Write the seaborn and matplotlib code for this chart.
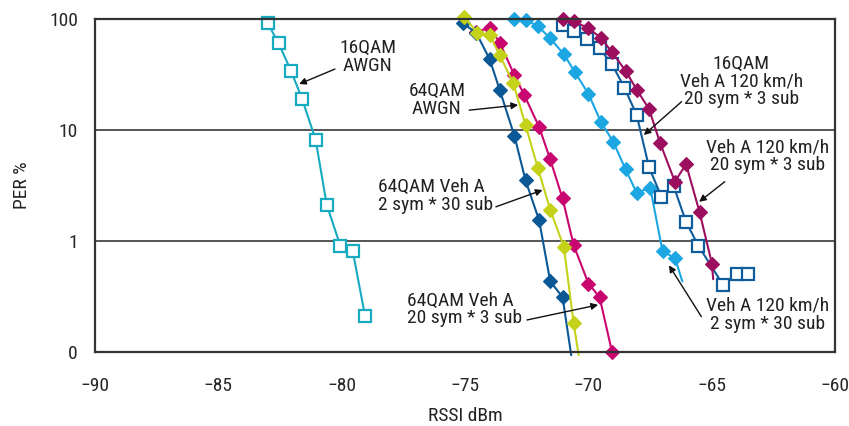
import numpy as np
import matplotlib
matplotlib.use("Agg")
import matplotlib.pyplot as plt
import seaborn as sns

# series (x = RSSI dBm, y = PER %)
awgn16_x = [-83.0, -82.55, -82.05, -81.6, -81.05, -80.6, -80.05, -79.55, -79.05]
awgn16_y = [92, 60, 34, 19, 8.1, 2.1, 0.9, 0.81, 0.21]

awgn64_x = [-75.1, -74.55, -74.0, -73.6, -73.0, -72.55, -72.0, -71.55, -71.05, -70.7]
awgn64_y = [91, 75, 43, 23, 8.8, 3.5, 1.53, 0.43, 0.31, 0.093]

veh64_2sym_x = [-75.05, -74.5, -74.0, -73.6, -73.05, -72.55, -72.05, -71.55, -71.0, -70.6, -70.4]
veh64_2sym_y = [104, 75, 72, 47, 26.5, 11, 4.5, 1.9, 0.88, 0.18, 0.093]

veh64_20sym_x = [-74.55, -74.0, -73.6, -73.0, -72.6, -72.0, -71.55, -71.05, -70.6, -70.0, -69.55, -69.05]
veh64_20sym_y = [76, 83, 61, 31, 20.5, 10.6, 5.4, 2.4, 0.91, 0.41, 0.31, 0.10]

veh_2sym_x = [-73.0, -72.55, -72.05, -71.55, -71.0, -70.55, -70.0, -69.5, -69.0, -68.5, -68.05, -67.5,
              -67.0, -66.5, -66.2]
veh_2sym_y = [100, 97, 86, 66.5, 48, 33, 21, 11.8, 7.8, 4.4, 2.7, 3.0, 0.80, 0.70, 0.43]

qam16_veh_x = [-71.05, -70.6, -70.05, -69.55, -69.05, -68.55, -68.05, -67.55, -67.05, -66.55, -66.05,
               -65.55, -64.55, -64.0, -63.55]
qam16_veh_y = [88, 77.5, 65.6, 54, 39, 24, 13.6, 4.6, 2.5, 3.1, 1.48, 0.90, 0.40, 0.50, 0.50]

veh_20sym_x = [-71.05, -70.6, -70.0, -69.5, -69.05, -68.5, -68.05, -67.55, -67.1, -66.5, -66.05,
               -65.5, -65.0, -64.95]
veh_20sym_y = [100, 95, 82, 67.4, 50, 34, 23, 15.4, 7.6, 3.4, 4.9, 1.8, 0.62, 0.45]

y_ticks = [0.1, 1, 10, 100]
y_tick_labels = ["0", "1", "10", "100"]
x_ticks = [-90, -85, -80, -75, -70, -65, -60]

sns.set_style("white")
plt.rcParams['font.family'] = ['Liberation Sans Narrow', 'DejaVu Sans Condensed', 'Roboto Condensed', 'Roboto']
plt.rcParams['font.stretch'] = 'condensed'
FS = 14

fig = plt.figure(figsize=(8.49, 4.26), dpi=100)
ax = fig.add_axes([0.1115, 0.1745, 0.8725, 0.7815])

line_kw = dict(lw=1.5, sort=False, estimator=None, clip_on=False, ax=ax)


def draw(x, y, color, marker, open_marker=False, tail=False):
    mk = dict(marker=marker, markersize=8.5 if marker == 's' else 6.8,
              markeredgecolor=color, markeredgewidth=1.6 if open_marker else 0.8,
              markerfacecolor='white' if open_marker else color)
    if tail:
        mk['markevery'] = list(range(len(x) - 1))
    sns.lineplot(x=x, y=y, color=color, **mk, **line_kw)


draw(awgn16_x, awgn16_y, '#17AAC0', 's', open_marker=True)
draw(veh_2sym_x, veh_2sym_y, '#1CA6E2', 'D', tail=True)
draw(qam16_veh_x, qam16_veh_y, '#0F5C9C', 's', open_marker=True)
draw(veh_20sym_x, veh_20sym_y, '#9C0E5E', 'D', tail=True)
draw(veh64_20sym_x, veh64_20sym_y, '#C9056F', 'D')
draw(awgn64_x, awgn64_y, '#0A5895', 'D', tail=True)
draw(veh64_2sym_x, veh64_2sym_y, '#C5D21A', 'D', tail=True)

ax.set_yscale('log')
ax.set_ylim(0.1, 100)
ax.set_xlim(-90, -60)
ax.set_yticks(y_ticks)
ax.set_yticklabels(y_tick_labels)
ax.minorticks_off()
ax.set_xticks(x_ticks)
ax.set_xticklabels([f"\u2212{abs(v)}" for v in x_ticks])
ax.tick_params(axis='x', direction='out', length=10, width=2, color='#333333', pad=8, labelsize=FS)
ax.tick_params(axis='y', length=0, pad=12, labelsize=FS)
ax.grid(axis='y', color='#555555', lw=1.4)
ax.grid(axis='x', visible=False)
for s in ax.spines.values():
    s.set_color('#333333')
    s.set_linewidth(1.6)
    s.set_visible(True)

ax.set_xlabel('RSSI dBm', fontsize=FS, labelpad=9, color='#222222')
ax.set_ylabel('PER %', fontsize=FS, labelpad=13, color='#222222')

arrow = dict(arrowstyle='-|>', color='#111111', lw=1.0, mutation_scale=10, shrinkA=0, shrinkB=0)
txt = dict(fontsize=FS, color='#222222', linespacing=1.0, va='center')

ax.annotate('', xy=(-81.72, 25.8), xytext=(-80.27, 35.2), arrowprops=arrow)
ax.text(-78.94, 45, '16QAM\nAWGN', ha='center', **txt)

ax.annotate('', xy=(-72.85, 16.7), xytext=(-74.83, 15), arrowprops=arrow)
ax.text(-76.14, 18.7, '64QAM\nAWGN', ha='center', **txt)

ax.annotate('', xy=(-71.86, 2.86), xytext=(-73.75, 2.02), arrowprops=arrow)
ax.text(-78.54, 2.53, '64QAM Veh A\n2 sym * 30 sub', ha='left', **txt)

ax.annotate('', xy=(-69.61, 0.264), xytext=(-72.49, 0.193), arrowprops=arrow)
ax.text(-77.34, 0.24, '64QAM Veh A\n20 sym * 3 sub', ha='left', **txt)

ax.annotate('', xy=(-67.76, 8.96), xytext=(-66.23, 17.9), arrowprops=arrow)
ax.text(-63.81, 27.2, '16QAM\nVeh A 120 km/h\n20 sym * 3 sub', ha='center', **txt)

ax.annotate('', xy=(-65.52, 2.24), xytext=(-64.48, 3.4), arrowprops=arrow)
ax.text(-62.76, 5.74, 'Veh A 120 km/h\n20 sym * 3 sub', ha='center', **txt)

ax.annotate('', xy=(-66.74, 0.60), xytext=(-65.43, 0.207), arrowprops=arrow)
ax.text(-62.76, 0.214, 'Veh A 120 km/h\n2 sym * 30 sub', ha='center', **txt)

fig.savefig('out.png', dpi=100)
